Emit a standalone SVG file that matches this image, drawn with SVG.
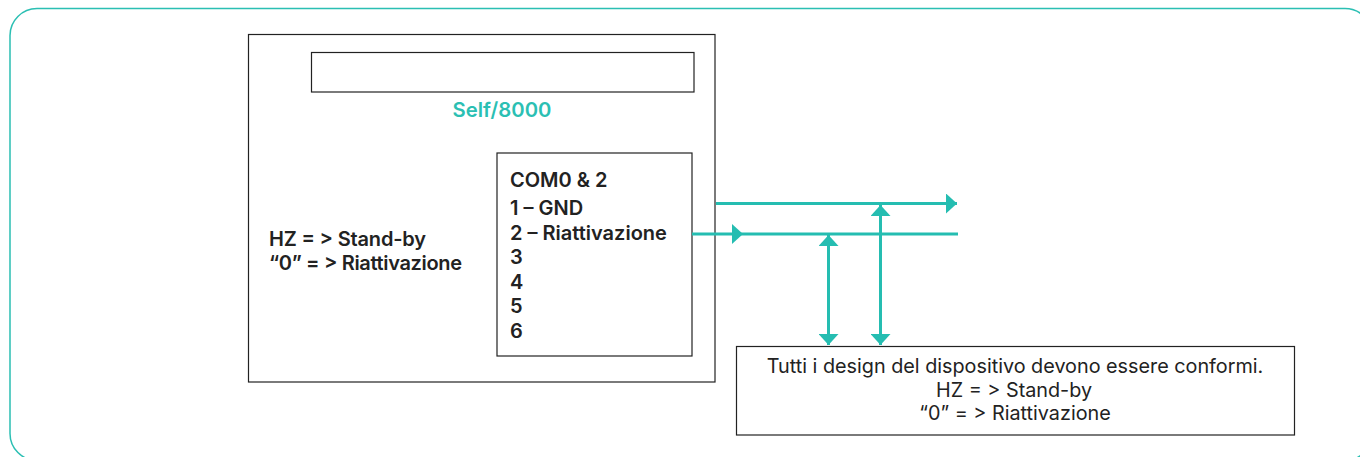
<svg xmlns="http://www.w3.org/2000/svg" width="1360" height="457" viewBox="0 0 1360 457">
<style>
.frame{fill:none;stroke:#2bbfb3;stroke-width:1.5}
.box{fill:#fff;stroke:#222;stroke-width:1.2}
.b{font-family:Inter,"Liberation Sans",sans-serif;font-weight:600;font-size:20px;fill:#222}
.r{font-family:Inter,"Liberation Sans",sans-serif;font-weight:400;font-size:19.8px;fill:#222}
.t{font-family:Inter,"Liberation Sans",sans-serif;font-weight:600;font-size:20.3px;fill:#2bbfb3}
.c{fill:none;stroke:#25bdb1;stroke-width:3}
</style>
<defs>
<marker id="ah" viewBox="0 0 11 20" refX="11" refY="10" markerWidth="11" markerHeight="20" markerUnits="userSpaceOnUse" orient="auto-start-reverse">
<path d="M0,0 L11,10 L0,20 Z" fill="#25bdb1"/>
</marker>
</defs>
<rect class="frame" x="10" y="8.5" width="1362" height="452" rx="27"/>
<g id="main">
<rect class="box" x="248.5" y="34.5" width="466.5" height="347.5"/>
<rect class="box" x="311.5" y="52.5" width="382.5" height="39.5"/>
<text class="t" x="502" y="117" text-anchor="middle">Self/8000</text>
<text class="b" x="269" y="246" textLength="157" lengthAdjust="spacing">HZ = &gt; Stand-by</text>
<text class="b" x="269" y="270" textLength="193" lengthAdjust="spacing">“0” = &gt; Riattivazione</text>
</g>
<g id="com">
<rect class="box" x="497" y="153" width="195" height="203"/>
<text class="b" x="510" y="187">COM0 &amp; 2</text>
<text class="b" x="510" y="215">1 – GND</text>
<text class="b" x="510" y="240">2 – Riattivazione</text>
<text class="b" x="510" y="264">3</text>
<text class="b" x="510" y="289">4</text>
<text class="b" x="510" y="313">5</text>
<text class="b" x="510" y="338">6</text>
</g>
<g id="note">
<rect class="box" x="736.5" y="346.5" width="558" height="88.5"/>
<text class="r" x="1015" y="373" text-anchor="middle">Tutti i design del dispositivo devono essere conformi.</text>
<text class="r" x="1014" y="397" text-anchor="middle">HZ = &gt; Stand-by</text>
<text class="r" x="1015" y="420" text-anchor="middle">“0” = &gt; Riattivazione</text>
</g>
<g id="connectors">
<line class="c" x1="716" y1="203.5" x2="957" y2="203.5" marker-end="url(#ah)"/>
<line class="c" x1="692" y1="234" x2="743" y2="234" marker-end="url(#ah)"/>
<line class="c" x1="743" y1="234" x2="958" y2="234"/>
<line class="c" x1="828.5" y1="235" x2="828.5" y2="345" marker-start="url(#ah)" marker-end="url(#ah)"/>
<line class="c" x1="880.5" y1="205" x2="880.5" y2="345" marker-start="url(#ah)" marker-end="url(#ah)"/>
</g>
</svg>
